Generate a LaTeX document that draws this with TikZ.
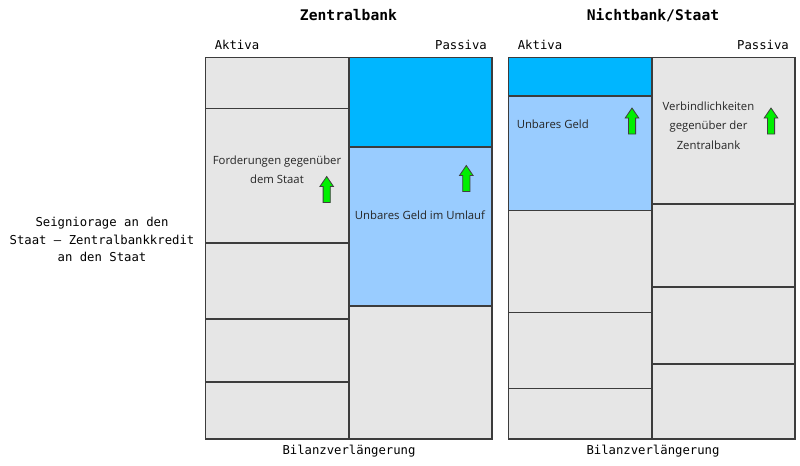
\documentclass[tikz,border=0pt]{standalone}
\usepackage{fontspec}
\setmainfont{Open Sans}
\setmonofont{DejaVu Sans Mono}
\definecolor{cellgray}{HTML}{E6E6E6}
\definecolor{darkblue}{HTML}{00B6FF}
\definecolor{lightblue}{HTML}{99CCFF}
\definecolor{edgegray}{HTML}{3C3C3C}
\definecolor{arrowgreen}{HTML}{00F000}
\begin{document}
\begin{tikzpicture}[x=0.75pt,y=-0.75pt,
  cell/.style={draw=edgegray,line width=0.9pt},
  graycell/.style={cell,fill=cellgray},
  dbcell/.style={cell,fill=darkblue},
  lbcell/.style={cell,fill=lightblue},
  monotext/.style={font=\ttfamily\fontsize{9.2}{12}\selectfont,inner sep=0pt},
  titletext/.style={font=\ttfamily\bfseries\fontsize{11}{13}\selectfont,inner sep=0pt},
  celltext/.style={font=\fontsize{8.5}{14.3}\selectfont,text=black!85,align=center,inner sep=0pt},
  greenup/.pic={\draw[draw=black!75,fill=arrowgreen,line width=0.6pt]
     (-3.6,0) -- (3.6,0) -- (3.6,-16) -- (6.8,-16) -- (0,-26) -- (-6.8,-16) -- (-3.6,-16) -- cycle;}
]
\useasboundingbox (0,0) rectangle (800,465);
% Zentralbank balance sheet: Aktiva
\path[graycell] (205.5,57.5) rectangle (349,108.5);
\path[graycell] (205.5,108.5) rectangle (349,243);
\path[graycell] (205.5,243) rectangle (349,319);
\path[graycell] (205.5,319) rectangle (349,382);
\path[graycell] (205.5,382) rectangle (349,439);
% Zentralbank: Passiva
\path[dbcell] (349,57.5) rectangle (492,147);
\path[lbcell] (349,147) rectangle (492,306);
\path[graycell] (349,306) rectangle (492,439);
% Nichtbank/Staat: Aktiva
\path[dbcell] (508.5,57.5) rectangle (652,96);
\path[lbcell] (508.5,96) rectangle (652,210.5);
\path[graycell] (508.5,210.5) rectangle (652,312.5);
\path[graycell] (508.5,312.5) rectangle (652,388.5);
\path[graycell] (508.5,388.5) rectangle (652,439);
% Nichtbank/Staat: Passiva
\path[graycell] (652,57.5) rectangle (795,204);
\path[graycell] (652,204) rectangle (795,287);
\path[graycell] (652,287) rectangle (795,364);
\path[graycell] (652,364) rectangle (795,439);

% titles and headings
\node[titletext] (t1) at (348.5,15) {Zentralbank};
\node[titletext] (t2) at (653,15) {Nichtbank/Staat};
\node[monotext] (a1) at (237,45) {Aktiva};
\node[monotext] (p1) at (461,45) {Passiva};
\node[monotext] (a2) at (540,45) {Aktiva};
\node[monotext] (p2) at (763,45) {Passiva};
\node[monotext] (b1) at (349,451) {Bilanzverlängerung};
\node[monotext] (b2) at (653,451) {Bilanzverlängerung};
\node[monotext,align=center,font=\ttfamily\fontsize{9.2}{13.1}\selectfont] (seig) at (102,239.5)
  {Seigniorage an den\\Staat – Zentralbankkredit\\an den Staat};

% cell texts
\node[celltext] (ford) at (277,169.5) {Forderungen gegenüber\\dem Staat};
\node[celltext] (umlauf) at (420,215.5) {Unbares Geld im Umlauf};
\node[celltext,anchor=west] (unbar) at (516.5,124) {Unbares Geld};
\node[celltext,font=\fontsize{8.5}{14.6}\selectfont] (verb) at (708.5,125.5) {Verbindlichkeiten\\gegenüber der\\Zentralbank};

% green arrows
\pic at (326.7,202.5) {greenup};
\pic at (466.3,191.5) {greenup};
\pic at (632,134) {greenup};
\pic at (771,134) {greenup};
\end{tikzpicture}
\end{document}
